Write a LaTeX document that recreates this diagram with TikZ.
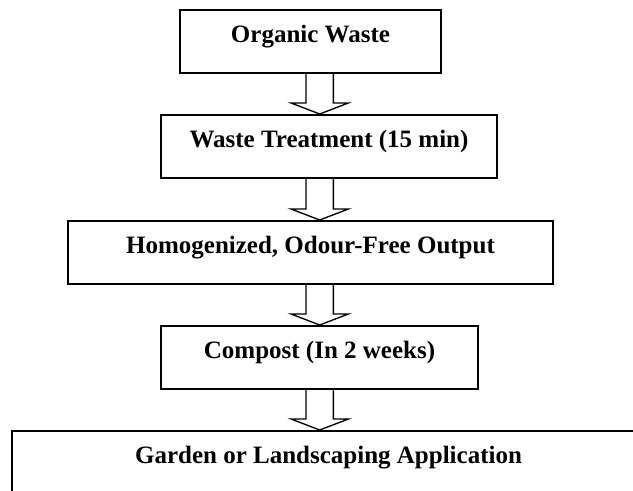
\documentclass[tikz,border=0pt]{standalone}
\usepackage{fontspec}
\setmainfont{Liberation Serif}
\usetikzlibrary{calc}
\tikzset{
  box/.style={draw, line width=1.5pt, rectangle, inner sep=0pt, minimum height=47.25pt},
  lbl/.style={anchor=base, inner sep=0pt, font=\bfseries\fontsize{18.75}{22}\selectfont},
  arrowline/.style={draw, line width=1pt, line join=miter, fill=white},
}
\newcommand\flowarrow[2]{%
  \path (ax |- #1.south) coordinate (atop) (ax |- #2.north) coordinate (atip);
  \draw[arrowline] ($(atop)+(-13.65,0)$) -- ($(atip)+(-13.65,-11)$) -- ($(atip)+(-28.65,-11)$)
     -- (atip) -- ($(atip)+(28.65,-11)$) -- ($(atip)+(13.65,-11)$) -- ($(atop)+(13.65,0)$);
}
\begin{document}
\begin{tikzpicture}[x=0.75pt,y=-0.75pt]
\useasboundingbox (0,0) rectangle (633,490);
\clip (0,0) rectangle (633,490);
\fill[white] (0,0) rectangle (633,490);
\coordinate (ax) at (319.7,0);

\node[box, minimum width=195.75pt] (b1) at (310.5,41.5) {};
\node[box, minimum width=252pt]    (b2) at (329,146.5) {};
\node[box, minimum width=363.75pt] (b3) at (310.5,252.5) {};
\node[box, minimum width=237.75pt] (b4) at (319.5,357.5) {};
\node[box, minimum width=474.75pt] (b5) at (328.5,462.5) {};

\node[lbl] (t1) at ($(b1.north)+(0,33.5)$) {Organic Waste};
\node[lbl] (t2) at ($(b2.north)+(0,33.5)$) {Waste Treatment (15 min)};
\node[lbl] (t3) at ($(b3.north)+(0,33.5)$) {Homogenized, Odour-Free Output};
\node[lbl] (t4) at ($(b4.north)+(0,33.5)$) {Compost (In 2 weeks)};
\node[lbl] (t5) at ($(b5.north)+(0,33.5)$) {Garden or Landscaping Application};

\flowarrow{b1}{b2}
\flowarrow{b2}{b3}
\flowarrow{b3}{b4}
\flowarrow{b4}{b5}
\end{tikzpicture}
\end{document}
